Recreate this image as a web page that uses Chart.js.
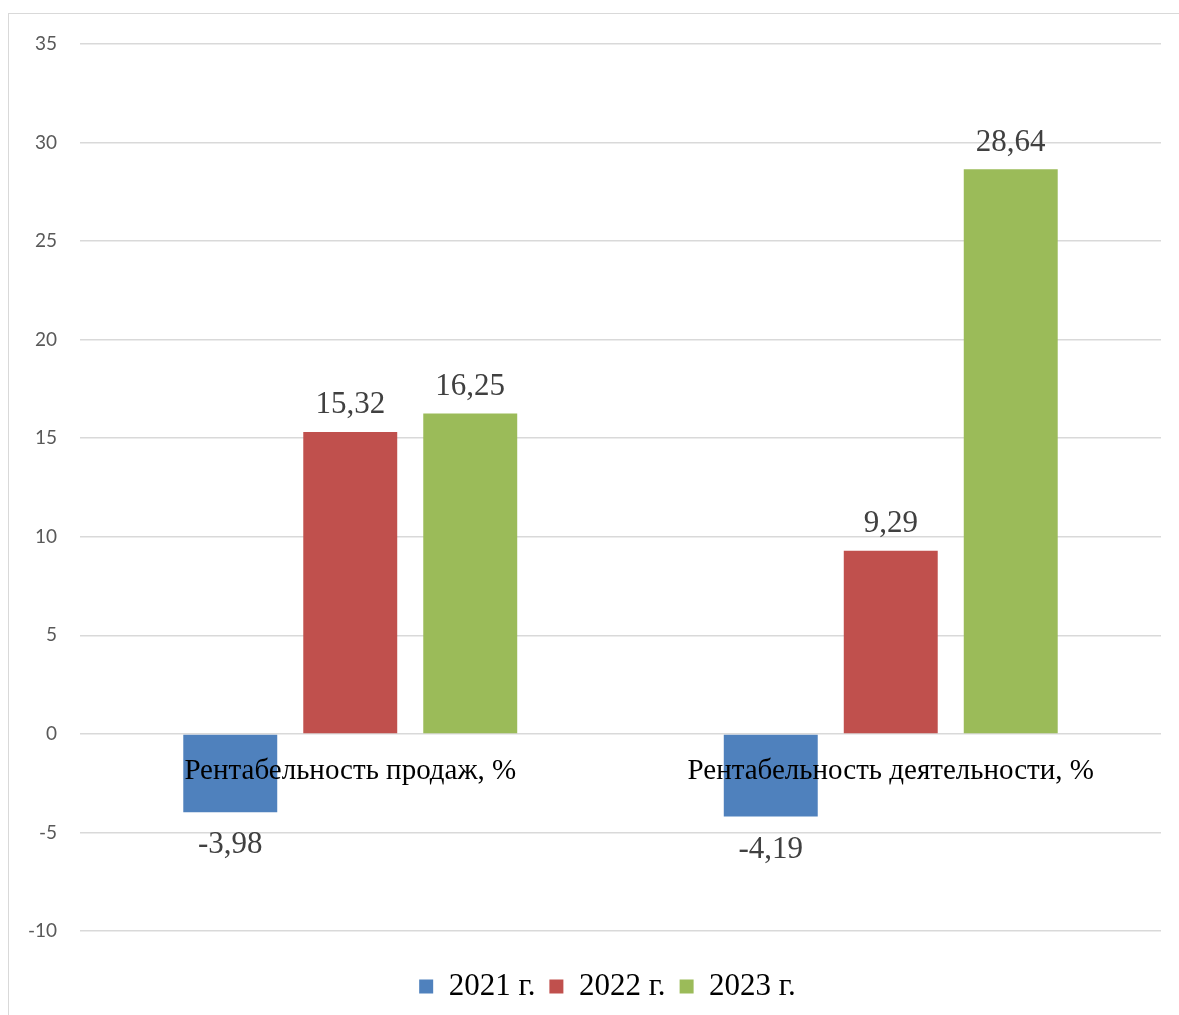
<!DOCTYPE html>
<html>
<head>
<meta charset="utf-8">
<script src="https://cdn.jsdelivr.net/npm/chart.js@4.4.1/dist/chart.umd.min.js"></script>
<style>
  body { margin: 0; background: #fff; overflow: hidden; }
  #frame { position: absolute; left: 8px; top: 13px; width: 1200px; height: 1050px; border: 1px solid #d9d9d9; }
  #wrap { position: absolute; left: 0; top: 0; width: 1179px; height: 1015px; }
</style>
</head>
<body>
<div id="frame"></div>
<div id="wrap"><canvas id="myChart"></canvas></div>
<script>
// chart values
const categories = ["Рентабельность продаж, %", "Рентабельность деятельности, %"];
const years = ["2021 г.", "2022 г.", "2023 г."];
const values2021 = [-3.98, -4.19];
const values2022 = [15.32, 9.29];
const values2023 = [16.25, 28.64];
const yTicks = [-10, -5, 0, 5, 10, 15, 20, 25, 30, 35];

const colors = ["#4F81BD", "#C0504D", "#9BBB59"];
const serif = "'Liberation Serif', 'Times New Roman', serif";

// value labels above / below each bar, comma as decimal sign
const barLabels = {
    id: "barLabels",
    afterDatasetsDraw(chart) {
        const c = chart.ctx;
        c.save();
        c.font = "31px " + serif;
        c.fillStyle = "#404040";
        c.textAlign = "center";
        c.textBaseline = "middle";
        chart.data.datasets.forEach((ds, i) => {
            chart.getDatasetMeta(i).data.forEach((bar, j) => {
                const v = ds.data[j];
                const txt = v.toFixed(2).replace(".", ",");
                const y = v >= 0 ? bar.y - 27 : bar.y + 33;
                c.fillText(txt, bar.x, y);
            });
        });
        c.restore();
    }
};

// category names sit just under the zero line, over the bars
const categoryLabels = {
    id: "categoryLabels",
    afterDatasetsDraw(chart) {
        const c = chart.ctx;
        const xs = chart.scales.x;
        const y0 = chart.scales.y.getPixelForValue(0);
        c.save();
        c.font = "29px " + serif;
        c.fillStyle = "#000";
        c.textAlign = "center";
        c.textBaseline = "middle";
        categories.forEach((name, i) => {
            c.fillText(name, xs.getPixelForValue(i), y0 + 38);
        });
        c.restore();
    }
};

// legend in the original is centred a bit right of the canvas middle
const shiftLegend = {
    id: "shiftLegend",
    afterLayout(chart) {
        chart.legend.left += 27;
        chart.legend.right += 27;
    }
};

let ctx = document.getElementById("myChart");
let myChart = new Chart(ctx, {
    type: "bar",
    data: {
        labels: categories,
        datasets: [
            { label: years[0], data: values2021, backgroundColor: colors[0] },
            { label: years[1], data: values2022, backgroundColor: colors[1] },
            { label: years[2], data: values2023, backgroundColor: colors[2] }
        ]
    },
    options: {
        responsive: true,
        maintainAspectRatio: false,
        animation: false,
        categoryPercentage: 0.666,
        barPercentage: 0.783,
        layout: { padding: { left: 0, top: 44, right: 18, bottom: 3 } },
        plugins: {
            tooltip: { enabled: false },
            legend: {
                position: "bottom",
                labels: {
                    boxWidth: 14,
                    boxHeight: 14,
                    padding: 14,
                    color: "#000",
                    font: { family: serif, size: 31 }
                }
            }
        },
        scales: {
            x: {
                ticks: { display: false },
                grid: { display: false },
                border: { display: false },
                afterFit: (scale) => { scale.height = 26; }
            },
            y: {
                min: yTicks[0],
                max: yTicks[yTicks.length - 1],
                afterBuildTicks: (scale) => { scale.ticks = yTicks.map((v) => ({ value: v })); },
                afterFit: (scale) => { scale.width = 80; },
                ticks: {
                    padding: 23,
                    color: "#595959",
                    font: { family: "Lato, 'Open Sans', sans-serif", size: 19 }
                },
                grid: { color: "#d9d9d9", lineWidth: 1.5, drawTicks: false },
                border: { display: false }
            }
        }
    },
    plugins: [barLabels, categoryLabels, shiftLegend]
});
</script>
</body>
</html>
